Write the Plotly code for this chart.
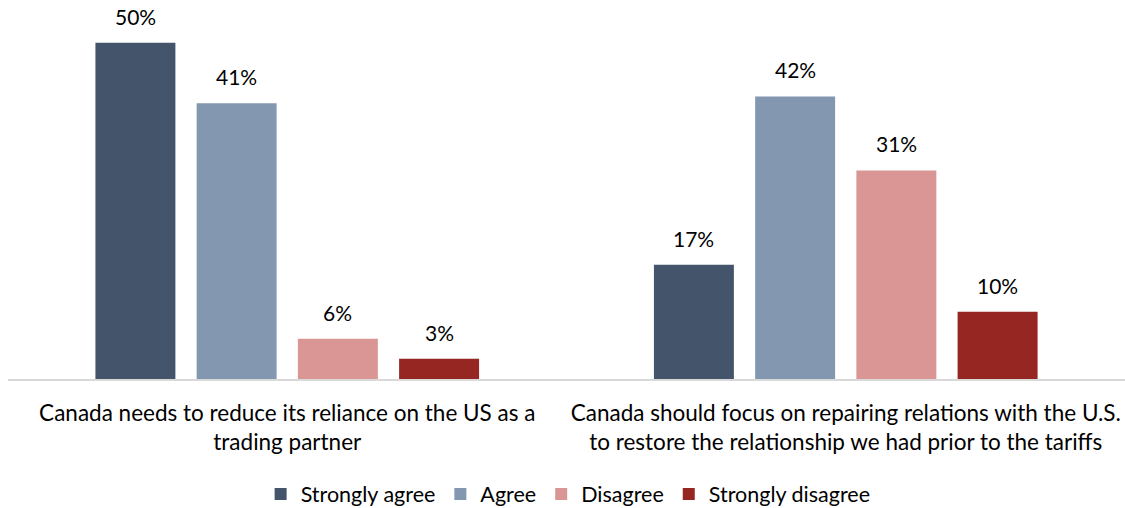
import plotly.graph_objects as go

categories = [
    "Canada needs to reduce its reliance on the US as a<br>trading partner",
    "Canada should focus on repairing relations with the U.S.<br>to restore the relationship we had prior to the tariffs",
]
series_names = ["Strongly agree", "Agree", "Disagree", "Strongly disagree"]
series_values = {
    "Strongly agree": [50, 17],
    "Agree": [41, 42],
    "Disagree": [6, 31],
    "Strongly disagree": [3, 10],
}
series_colors = {
    "Strongly agree": "#44546A",
    "Agree": "#8497B0",
    "Disagree": "#DA9694",
    "Strongly disagree": "#952622",
}

FONT = "Lato, Carlito, Calibri, sans-serif"

BARGAP = 0.275
GROUPGAP = 0.21
n = len(series_names)
slot = (1 - BARGAP) / n

fig = go.Figure()
for i, name in enumerate(series_names):
    vals = series_values[name]
    fig.add_trace(go.Bar(
        name=name,
        x=list(range(len(categories))),
        y=vals,
        marker=dict(color=series_colors[name], line=dict(width=0)),
    ))
    # value labels centred over each bar
    offset = -(1 - BARGAP) / 2 + slot * (i + 0.5)
    for j, v in enumerate(vals):
        fig.add_annotation(
            x=j + offset, y=v, xref="x", yref="y",
            text=f"{v}%", showarrow=False,
            yanchor="bottom", yshift=12,
            font=dict(size=21, family=FONT, color="#000000"),
        )

fig.update_layout(
    width=1125,
    height=508,
    margin=dict(l=8, r=0, t=9, b=129, autoexpand=False),
    paper_bgcolor="white",
    plot_bgcolor="white",
    barmode="group",
    bargap=BARGAP,
    bargroupgap=GROUPGAP,
    font=dict(family=FONT, size=21, color="#000000"),
    showlegend=True,
    legend=dict(
        orientation="h",
        x=0.505, xanchor="center", xref="container",
        y=14 / 508, yanchor="middle", yref="container",
        font=dict(size=21.5, family=FONT),
        traceorder="normal",
        itemwidth=30,
    ),
)
fig.update_xaxes(
    tickmode="array",
    tickvals=list(range(len(categories))),
    ticktext=categories,
    range=[-0.5, len(categories) - 0.5],
    showline=True, linecolor="#D9D9D9", linewidth=1.5,
    ticks="", showgrid=False, automargin=False,
    tickfont=dict(size=22.5, family=FONT),
    ticklabelstandoff=13,
)
fig.update_yaxes(
    range=[0, 55], visible=False, showgrid=False, zeroline=False,
)

fig.write_html("out.html")
